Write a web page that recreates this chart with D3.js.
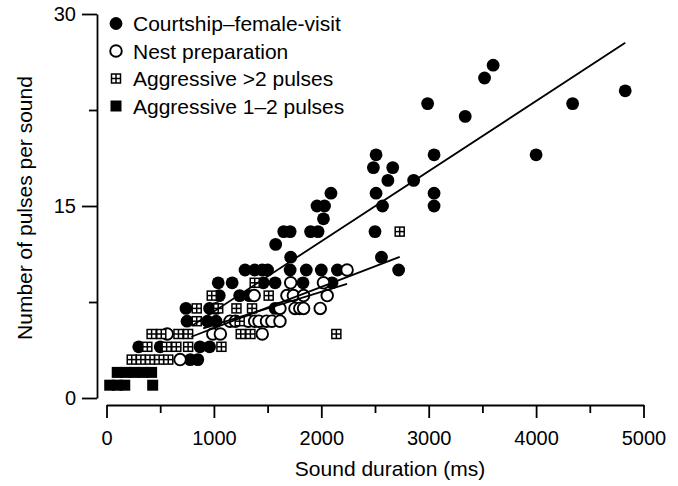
<!DOCTYPE html>
<html>
<head>
<meta charset="utf-8">
<script src="https://cdn.jsdelivr.net/npm/d3@7"></script>
<style>
  body { margin: 0; background: #fff; }
  svg text { font-family: "Liberation Sans", Arial, Helvetica, sans-serif; fill: #000; }
</style>
</head>
<body>
<svg id="chart" width="678" height="486"></svg>
<script>
// Sound duration (ms) and number of pulses for each recorded sound, by context
const courtship = [
  [300,4],[500,4],[870,4],[960,4],
  [780,3],[850,3],
  [750,6],[940,6],[1020,6],
  [740,7],[960,7],[1020,7],[1570,7],
  [1050,8],[1240,8],[1330,8],
  [1040,9],[1170,9],[1460,9],[1570,9],[1830,9],[2100,9],
  [1290,10],[1380,10],[1450,10],[1500,10],[1710,10],[1860,10],[2000,10],[2150,10],[2720,10],
  [1715,11],[2560,11],
  [1575,12],
  [1650,13],[1710,13],[1900,13],[1970,13],[2500,13],
  [2020,14],
  [1960,15],[2030,15],[2570,15],[3050,15],
  [2090,16],[2510,16],[3050,16],
  [2620,17],[2860,17],
  [2485,18],[2665,18],
  [2510,19],[3050,19],[4000,19],
  [3340,22],
  [2990,23],[4340,23],
  [4830,24],
  [3520,25],
  [3600,26]
];

const nestPreparation = [
  [685,3],
  [565,5],[990,5],[1060,5],[1450,5],
  [1150,6],[1200,6],[1320,6],[1380,6],[1420,6],[1490,6],[1540,6],[1615,6],
  [1615,7],[1755,7],[1800,7],[1835,7],[1990,7],
  [1375,8],[1680,8],[1740,8],[1835,8],[2055,8],
  [1715,9],[2020,9],
  [2240,10]
];

const aggressiveMany = [
  [235,3],[320,3],[405,3],[490,3],[575,3],
  [380,4],[560,4],[650,4],[760,4],[1070,4],
  [420,5],[510,5],[670,5],[760,5],[1250,5],[1340,5],[2140,5],
  [840,6],[1240,6],
  [840,7],[1040,7],[1210,7],[1355,7],
  [980,8],[1510,8],
  [1380,9],
  [2730,13]
];

const aggressiveFew = [
  [30,1],[100,1],[170,1],[430,1],
  [100,2],[180,2],[260,2],[340,2],[420,2]
];

// Least-squares fits: [intercept (pulses), slope (pulses per s), first ms, last ms]
const courtshipFit = [1.28, 5.48, 800, 4830];
const aggressiveFit = [2.24, 3.22, 790, 2730];
const nestFit = [3.1, 2.6, 900, 2240];

const xTicks = [0, 1000, 2000, 3000, 4000, 5000];
const xMinorTicks = [500, 1500, 2500, 3500, 4500];
const yTicks = [0, 15, 30];
const yMinorTicks = [7.5, 22.5];

const legendLabels = [
  "Courtship\u2013female-visit",
  "Nest preparation",
  "Aggressive >2 pulses",
  "Aggressive 1\u20132 pulses"
];

const svg = d3.select("#chart");
const x = d3.scaleLinear().domain([0, 5000]).range([106.5, 643.5]);
const y = d3.scaleLinear().domain([0, 30]).range([398, 14]);

// ---- axes ----
const xAxisY = 405;
const gx = svg.append("g").attr("transform", `translate(0,${xAxisY})`);
gx.call(d3.axisBottom(x).tickValues(xTicks).tickSize(13).tickSizeOuter(0).tickPadding(13).tickFormat(d3.format("d")));
gx.append("g").call(d3.axisBottom(x).tickValues(xMinorTicks).tickSize(8).tickSizeOuter(0).tickFormat(""))
  .select(".domain").remove();
gx.selectAll("path.domain, line").attr("stroke", "#000").attr("stroke-width", 1.8);
gx.selectAll("text").attr("font-size", 20).attr("font-family", null);

const yAxisX = 97;
const gy = svg.append("g").attr("transform", `translate(${yAxisX},0)`);
gy.call(d3.axisLeft(y).tickValues(yTicks).tickSize(15).tickSizeOuter(0).tickPadding(6).tickFormat(d3.format("d")));
gy.append("g").call(d3.axisLeft(y).tickValues(yMinorTicks).tickSize(8).tickSizeOuter(0).tickFormat(""))
  .select(".domain").remove();
gy.selectAll("path.domain, line").attr("stroke", "#000").attr("stroke-width", 1.8);
gy.selectAll("text").attr("font-size", 20).attr("font-family", null);

svg.append("text")
  .attr("x", 390).attr("y", 476)
  .attr("text-anchor", "middle").attr("font-size", 21)
  .text("Sound duration (ms)");

svg.append("text")
  .attr("transform", "translate(31.5,208) rotate(-90)")
  .attr("text-anchor", "middle").attr("font-size", 21)
  .text("Number of pulses per sound");

// ---- marker painters ----
const R_FILLED = 6.4, R_OPEN = 5.8, HATCH = 10.5, SQUARE = 11;

function filledCircle(g, cx, cy) {
  g.append("circle").attr("cx", cx).attr("cy", cy).attr("r", R_FILLED).attr("fill", "#000");
}
function openCircle(g, cx, cy) {
  g.append("circle").attr("cx", cx).attr("cy", cy).attr("r", R_OPEN)
    .attr("fill", "#fff").attr("stroke", "#000").attr("stroke-width", 1.9);
}
function hatchSquare(g, cx, cy) {
  const s = HATCH, t = 1.5, w = (s - 3 * t) / 2;
  const m = g.append("g").attr("transform", `translate(${cx - s / 2},${cy - s / 2})`);
  m.append("rect").attr("width", s).attr("height", s).attr("fill", "#000");
  [[t, t], [2 * t + w, t], [t, 2 * t + w], [2 * t + w, 2 * t + w]].forEach(([a, b]) =>
    m.append("rect").attr("x", a).attr("y", b).attr("width", w).attr("height", w).attr("fill", "#fff"));
}
function filledSquare(g, cx, cy) {
  g.append("rect").attr("x", cx - SQUARE / 2).attr("y", cy - SQUARE / 2)
    .attr("width", SQUARE).attr("height", SQUARE).attr("fill", "#000");
}

// ---- data points ----
const pts = svg.append("g");
courtship.forEach(([d, n]) => filledCircle(pts, x(d), y(n)));
nestPreparation.forEach(([d, n]) => openCircle(pts, x(d), y(n)));
aggressiveMany.forEach(([d, n]) => hatchSquare(pts, x(d), y(n)));
aggressiveFew.forEach(([d, n]) => filledSquare(pts, x(d), y(n)));

// ---- regression lines ----
const line = d3.line().x(p => x(p[0])).y(p => y(p[1]));
[courtshipFit, aggressiveFit, nestFit].forEach(([a, b, x0, x1]) => {
  svg.append("path")
    .attr("d", line([[x0, a + b * x0 / 1000], [x1, a + b * x1 / 1000]]))
    .attr("fill", "none").attr("stroke", "#000").attr("stroke-width", 1.8);
});

// ---- legend ----
const painters = [filledCircle, openCircle, hatchSquare, filledSquare];
const lg = svg.append("g");
legendLabels.forEach((label, i) => {
  const cy = 23.5 + i * 27.5;
  painters[i](lg, 116, cy);
  lg.append("text").attr("x", 133).attr("y", cy + 7.5).attr("font-size", 21).text(label);
});
</script>
</body>
</html>
